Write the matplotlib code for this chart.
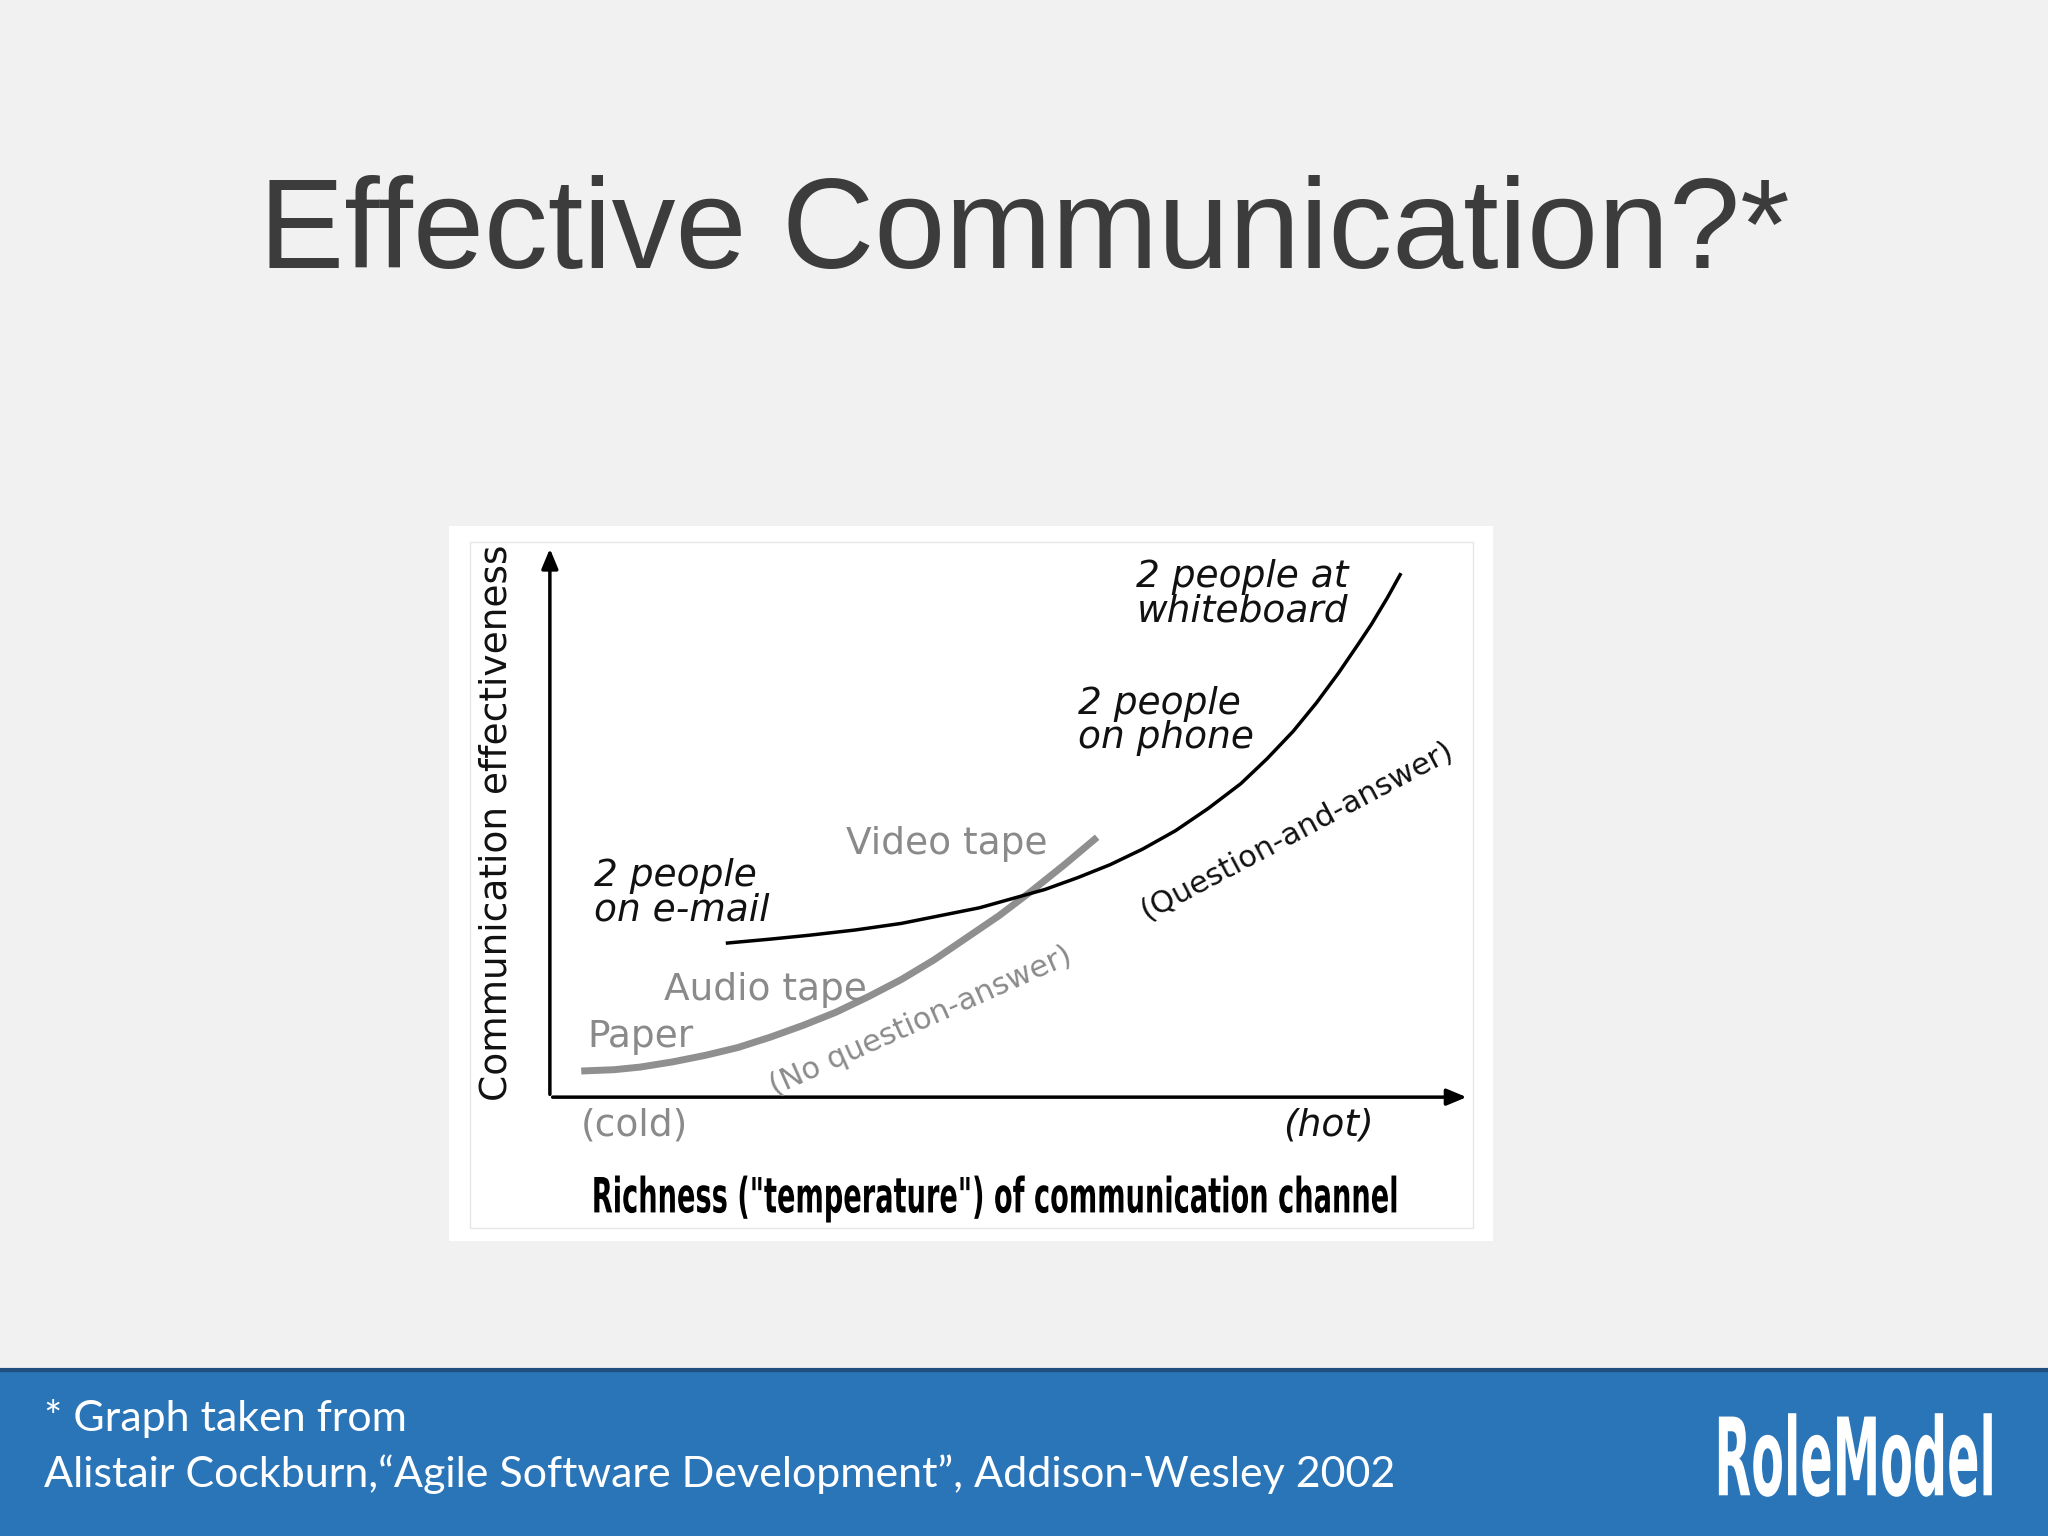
import matplotlib.pyplot as plt
from matplotlib.patches import Rectangle, FancyArrowPatch, PathPatch
from matplotlib.textpath import TextPath
from matplotlib.font_manager import FontProperties
from matplotlib.transforms import Affine2D

# values, in slide pixel units (1568 x 1176 layout)
interactive_x = [557, 590, 620, 655, 690, 720, 750, 775, 800, 825, 850, 875,
                 900, 925, 950, 970, 990, 1008, 1025, 1040, 1050, 1062, 1072]
interactive_y = [722, 719, 716, 712, 707, 701, 695, 688, 681, 672, 662, 650,
                 636, 619, 600, 581, 560, 538, 515, 493, 478, 458, 440]
recorded_x = [445, 470, 490, 515, 540, 565, 590, 615, 640, 665, 690, 715, 740, 765, 790, 815, 840]
recorded_y = [820, 819, 817, 813, 808, 802, 794, 785, 775, 763, 750, 735, 718, 701, 682, 662, 641]

W, H = 1568, 1176
fig = plt.figure(figsize=(20.48, 15.36), dpi=100)
fig.patch.set_facecolor("#f1f1f1")
ax = fig.add_axes([0, 0, 1, 1])
ax.set_xlim(0, W)
ax.set_ylim(H, 0)
ax.axis("off")


def narrow_text(s, x0, x1, y_base, height, color, weight="bold"):
    # condensed text: squeeze glyph outlines to fit between x0 and x1
    tp = TextPath((0, 0), s, size=100, prop=FontProperties(family="DejaVu Sans", weight=weight))
    ext = tp.get_extents()
    sx = (x1 - x0) / ext.width
    sy = height / ext.height
    tr = Affine2D().translate(-ext.x0, -ext.y0).scale(sx, -sy).translate(x0, y_base)
    ax.add_patch(PathPatch(tr.transform_path(tp), facecolor=color, edgecolor="none"))


ax.text(784, 180, "Effective Communication?*", ha="center", va="center",
        fontsize=92, color="#3c3c3c", family="Liberation Sans")

# chart panel
ax.add_patch(Rectangle((344, 403), 799, 547, facecolor="white", edgecolor="none"))
ax.add_patch(Rectangle((360, 415), 768, 525, facecolor="none", edgecolor="#e6e6e6", lw=1))

ax.add_patch(FancyArrowPatch((421, 840), (421, 418), arrowstyle="-|>,head_length=12,head_width=5",
                             color="black", lw=2.5, mutation_scale=1))
ax.add_patch(FancyArrowPatch((421, 840), (1125, 840), arrowstyle="-|>,head_length=12,head_width=5",
                             color="black", lw=2.5, mutation_scale=1))

ax.plot(recorded_x, recorded_y, color="#8f8f8f", lw=5, solid_capstyle="butt")
ax.plot(interactive_x, interactive_y, color="black", lw=2.5)

blk = dict(color="#111111", fontsize=27, style="italic", family="DejaVu Sans")
gry = dict(color="#8a8a8a", fontsize=27, family="DejaVu Sans")
ax.text(870, 455, "2 people at\nwhiteboard", va="center", linespacing=0.95, **blk)
ax.text(825, 552, "2 people\non phone", va="center", linespacing=0.95, **blk)
ax.text(455, 684, "2 people\non e-mail", va="center", linespacing=0.95, **blk)
ax.text(648, 646, "Video tape", va="center", **gry)
ax.text(508, 758, "Audio tape", va="center", **gry)
ax.text(450, 794, "Paper", va="center", **gry)
ax.text(705, 782, "(No question-answer)", ha="center", va="center", rotation=24,
        color="#8a8a8a", fontsize=22, family="DejaVu Sans")
ax.text(993, 636, "(Question-and-answer)", ha="center", va="center", rotation=28,
        color="#111111", fontsize=22, family="DejaVu Sans")
ax.text(445, 862, "(cold)", va="center", **gry)
ax.text(982, 862, "(hot)", va="center", **blk)
narrow_text('Richness ("temperature") of communication channel', 455, 1069, 936, 36, "black")
ax.text(380, 630, "Communication effectiveness", ha="center", va="center", rotation=90,
        fontsize=27, color="#111111", family="DejaVu Sans")

# footer band
ax.add_patch(Rectangle((0, 1048), W, 128, facecolor="#2a74b8", edgecolor="none"))
ax.plot([0, W], [1049, 1049], color="#1f4f7e", lw=3)
ax.text(34, 1086, "* Graph taken from", va="center", color="white", fontsize=31, family="Lato")
ax.text(34, 1129, "Alistair Cockburn,\u201cAgile Software Development\u201d, Addison-Wesley 2002",
        va="center", color="white", fontsize=31, family="Lato")
narrow_text("RoleModel", 1316, 1525, 1146, 64, "white")

fig.savefig("out.png", dpi=100, facecolor=fig.get_facecolor())
